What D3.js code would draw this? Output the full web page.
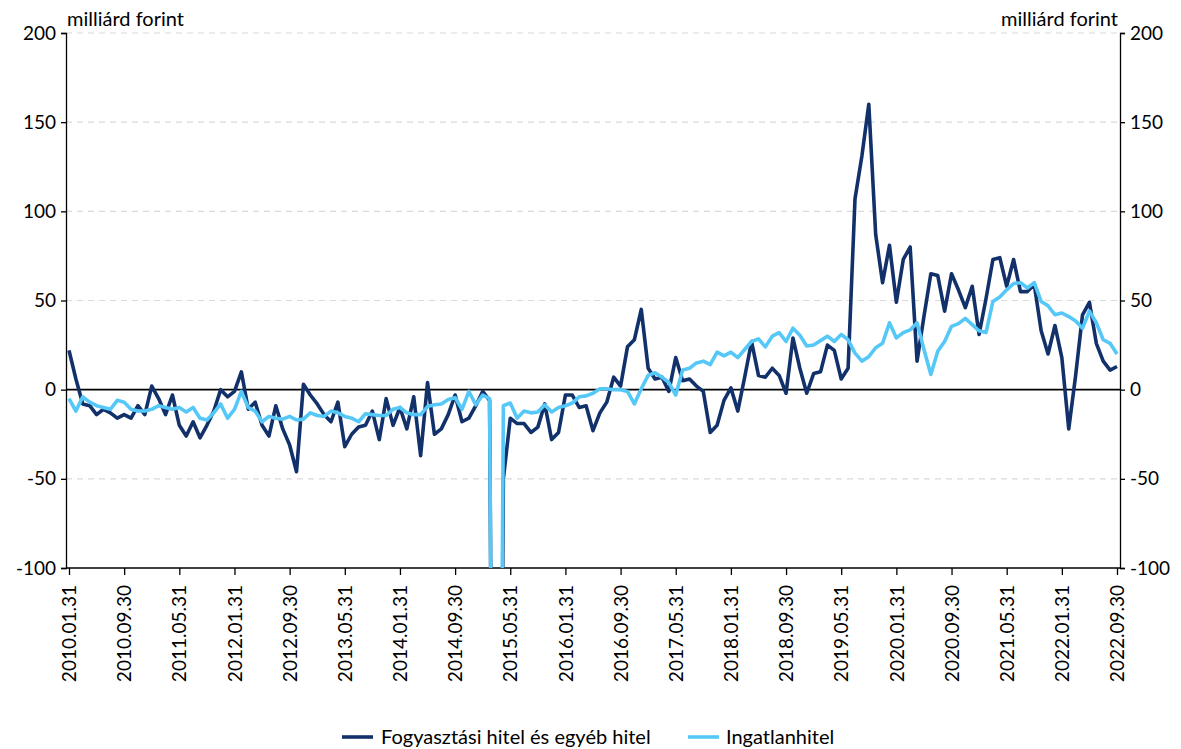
<!DOCTYPE html>
<html>
<head>
<meta charset="utf-8">
<script src="https://cdn.jsdelivr.net/npm/d3@7"></script>
<style>
  html, body { margin: 0; padding: 0; background: #ffffff; }
  svg { display: block; }
  text { font-family: Lato, "Open Sans", sans-serif; fill: #000; }
</style>
</head>
<body>
<svg id="chart" width="1181" height="749"></svg>
<script>
// ---- data ----
const seriesNames = ["Fogyasztási hitel és egyéb hitel", "Ingatlanhitel"];
const unitLabel = "milliárd forint";
const tickLabels = ["2010.01.31","2010.09.30","2011.05.31","2012.01.31","2012.09.30","2013.05.31","2014.01.31","2014.09.30","2015.05.31","2016.01.31","2016.09.30","2017.05.31","2018.01.31","2018.09.30","2019.05.31","2020.01.31","2020.09.30","2021.05.31","2022.01.31","2022.09.30"];
const yTicks = [-100, -50, 0, 50, 100, 150, 200];

const consumer = [
  22, 6, -8, -9, -14, -11, -13, -16, -14, -16,
  -9, -14, 2, -5, -14, -3, -20, -26, -18, -27,
  -20, -12, 0, -4, -1, 10, -11, -7, -20, -26,
  -9, -22, -31, -46, 3, -3, -8, -14, -18, -7,
  -32, -25, -21, -20, -12, -28, -5, -20, -10, -22,
  -4, -37, 4, -25, -22, -14, -3, -18, -16, -9,
  -1, -6, -600, -50, -16, -19, -19, -24, -21, -8,
  -28, -24, -3, -3, -10, -9, -23, -13, -7, 7,
  2, 24, 28, 45, 12, 6, 7, -1, 18, 5,
  6, 2, -1, -24, -20, -6, 1, -12, 7, 27,
  8, 7, 12, 8, -2, 29, 12, -2, 9, 10,
  25, 22, 6, 12, 107, 131, 160, 87, 60, 81,
  49, 73, 80, 16, 41, 65, 64, 44, 65, 56,
  46, 58, 31, 51, 73, 74, 58, 73, 55, 55,
  59, 33, 20, 36, 18, -22, 8, 42, 49, 26,
  16, 11, 13
];
const mortgage = [
  -5, -12, -4, -7, -9, -10, -11, -6, -7, -11,
  -12, -12, -11, -9, -10, -11, -10, -12.5, -10, -16,
  -17, -13, -8, -16, -11, -1, -10, -12, -18, -15,
  -16, -16.5, -15, -17, -16.5, -13, -14.5, -15, -12, -13,
  -15, -16, -18, -13.5, -14, -14.5, -14.5, -11, -10, -13,
  -14, -14, -9.5, -8.5, -8, -5.5, -4.5, -11, -1, -8.5,
  -3, -5, -600, -9, -7.5, -16, -12, -13, -12.5, -8.5,
  -12.5, -10, -9, -7.5, -4, -3.5, -2, 0.5, 0.5, 0,
  0, -1, -8, 0.5, 8, 9.5, 7, 4, -3, 11,
  12, 15, 16, 14, 21, 19, 21, 18, 22.5, 27,
  28.5, 24, 30, 32, 27, 34.5, 30.5, 24.5, 25, 27.5,
  30, 27, 31, 28, 20.5, 16, 18.5, 23.5, 26, 37.5,
  29, 32, 33.5, 37.5, 22.5, 8.5, 21.5, 27, 35.5, 37,
  40, 36.5, 33, 32, 49.5, 52, 56, 59.5, 60, 57,
  60, 49.5, 47, 42, 43, 41, 38.5, 34.5, 44, 37.5,
  28, 26, 20
];

// categories: month-end dates 2010.01.31 ... 2022.09.30
const fmt = d3.timeFormat("%Y.%m.%d");
const categories = d3.range(consumer.length).map(i => fmt(new Date(2010, i + 1, 0)));

// ---- layout ----
const svg = d3.select("#chart");
const L = 66, R = 1120, T = 33, B = 568;
const colors = ["#12316b", "#55c8f7"];
const tickFont = 19, textFont = 20;

const x = d3.scalePoint().domain(categories).range([69, 1117]);
const y = d3.scaleLinear().domain([-100, 200]).range([B, T]);

// gridlines
svg.append("g").selectAll("line")
  .data(yTicks.filter(v => v !== 0 && v !== -100))
  .join("line")
  .attr("x1", L).attr("x2", R)
  .attr("y1", d => y(d)).attr("y2", d => y(d))
  .attr("stroke", "#d9d9d9").attr("stroke-width", 1.2)
  .attr("stroke-dasharray", "6,5");

// axes
const yFmt = d => String(d);
const leftAxis = d3.axisLeft(y).tickValues(yTicks).tickSize(5).tickPadding(5).tickFormat(yFmt);
const rightAxis = d3.axisRight(y).tickValues(yTicks).tickSize(5).tickPadding(5).tickFormat(yFmt);
const bottomAxis = d3.axisBottom(x).tickValues(tickLabels).tickSize(7).tickPadding(0);

const gl = svg.append("g").attr("transform", `translate(${L},0)`).call(leftAxis);
const gr = svg.append("g").attr("transform", `translate(${R},0)`).call(rightAxis);
[gl, gr].forEach(g => {
  g.select(".domain").attr("stroke", "#000").attr("stroke-width", 1.3);
  g.selectAll(".tick line").attr("stroke", "#000").attr("stroke-width", 1.3);
  g.selectAll(".tick text").attr("font-family", "Lato, sans-serif").attr("font-size", tickFont).attr("fill", "#000");
});

const gb = svg.append("g").attr("transform", `translate(0,${B})`).call(bottomAxis);
gb.select(".domain").remove();
gb.append("line").attr("x1", L).attr("x2", R).attr("y1", 0).attr("y2", 0)
  .attr("stroke", "#000").attr("stroke-width", 1.3);
gb.selectAll(".tick line").attr("stroke", "#000").attr("stroke-width", 1.3);
gb.selectAll(".tick text")
  .attr("font-family", "Lato, sans-serif").attr("font-size", tickFont).attr("fill", "#000")
  .attr("text-anchor", "end")
  .attr("transform", "translate(0,17) rotate(-90)")
  .attr("x", 0).attr("y", 0).attr("dy", "0.35em");

// zero line
svg.append("line").attr("x1", L).attr("x2", R).attr("y1", y(0)).attr("y2", y(0))
  .attr("stroke", "#000").attr("stroke-width", 1.6);

// unit labels
svg.append("text").attr("x", 67).attr("y", 26).attr("font-size", textFont).text(unitLabel);
svg.append("text").attr("x", 1118).attr("y", 26).attr("font-size", textFont).attr("text-anchor", "end").text(unitLabel);

// clip
svg.append("defs").append("clipPath").attr("id", "plotclip")
  .append("rect").attr("x", L).attr("y", T).attr("width", R - L).attr("height", B - T);

const line = d3.line().x((d, i) => x(categories[i])).y(d => y(d));
const plot = svg.append("g").attr("clip-path", "url(#plotclip)");
[consumer, mortgage].forEach((s, k) => {
  plot.append("path").datum(s)
    .attr("d", line)
    .attr("fill", "none")
    .attr("stroke", colors[k])
    .attr("stroke-width", 3.6)
    .attr("stroke-linejoin", "round");
});

// legend
const legendItems = [
  { x1: 342, x2: 373, tx: 381 },
  { x1: 688, x2: 719, tx: 726 }
];
legendItems.forEach((it, k) => {
  svg.append("line").attr("x1", it.x1).attr("x2", it.x2).attr("y1", 737).attr("y2", 737)
    .attr("stroke", colors[k]).attr("stroke-width", 3.6);
  svg.append("text").attr("x", it.tx).attr("y", 737).attr("dy", "0.35em")
    .attr("font-size", textFont).text(seriesNames[k]);
});
</script>
</body>
</html>
